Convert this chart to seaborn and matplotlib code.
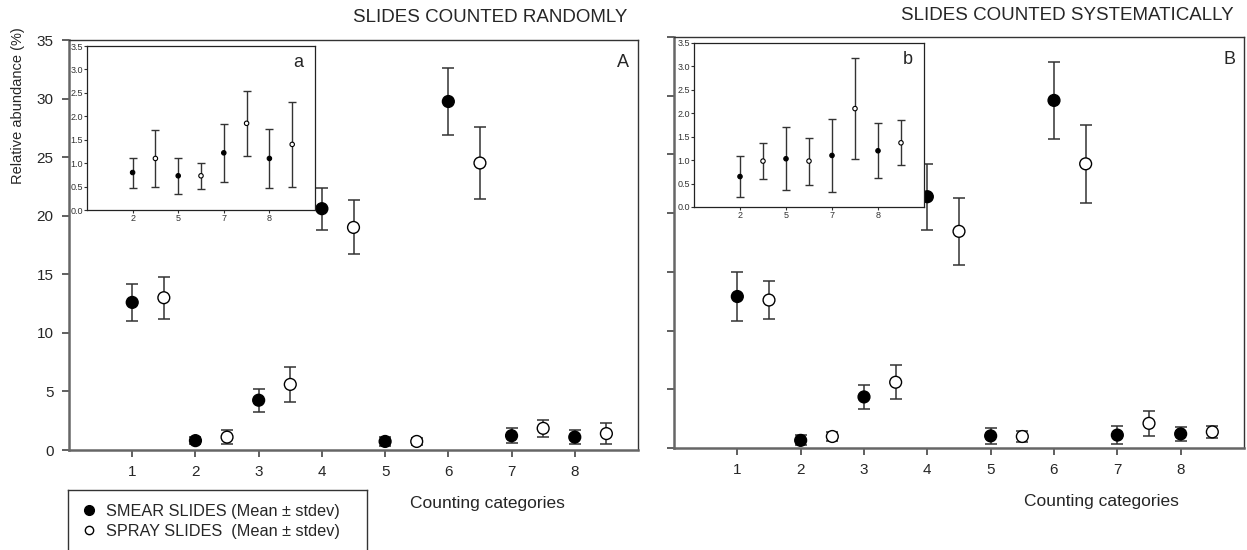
import numpy as np
import pandas as pd
import seaborn as sns
import matplotlib.pyplot as plt
from matplotlib.lines import Line2D

categories = [1, 2, 3, 4, 5, 6, 7, 8]
inset_cats = [2, 5, 7, 8]

# A: slides counted randomly
smear_a = [12.6, 0.8, 4.25, 20.6, 0.73, 29.75, 1.22, 1.1]
smear_a_sd = [1.6, 0.32, 0.97, 1.8, 0.39, 2.85, 0.62, 0.62]
spray_a = [13.0, 1.1, 5.6, 19.0, 0.73, 24.5, 1.85, 1.4]
spray_a_sd = [1.8, 0.6, 1.5, 2.3, 0.28, 3.1, 0.7, 0.9]

# B: slides counted systematically
smear_b = [12.9, 0.65, 4.35, 21.4, 1.03, 29.6, 1.1, 1.2]
smear_b_sd = [2.05, 0.43, 1.05, 2.8, 0.67, 3.3, 0.77, 0.59]
spray_b = [12.6, 0.98, 5.6, 18.45, 0.98, 24.2, 2.1, 1.37]
spray_b_sd = [1.65, 0.38, 1.45, 2.85, 0.5, 3.3, 1.07, 0.48]


def make_df(smear, smear_sd, spray, spray_sd, cats):
    rows = []
    for c in cats:
        k = categories.index(c)
        rows.append(dict(cat=c, kind="SMEAR", mean=smear[k], sd=smear_sd[k]))
        rows.append(dict(cat=c, kind="SPRAY", mean=spray[k], sd=spray_sd[k]))
    return pd.DataFrame(rows)


def draw(ax, df, positions, ms, cap, lw, ew):
    df = df.copy()
    base = df["cat"].map(dict(zip(sorted(df["cat"].unique()), positions)))
    df["pos"] = base + np.where(df["kind"] == "SPRAY", 0.5, 0.0)
    ax.errorbar(df["pos"], df["mean"], yerr=df["sd"], fmt="none", ecolor="#333333",
                elinewidth=lw, capsize=cap, capthick=lw, zorder=2)
    sns.scatterplot(data=df, x="pos", y="mean", hue="kind",
                    palette={"SMEAR": "black", "SPRAY": "white"},
                    s=ms ** 2, edgecolor="black", linewidth=ew, legend=False,
                    ax=ax, zorder=3)
    ax.set_xlabel("")
    ax.set_ylabel("")


sns.set_theme(style="ticks")
plt.rcParams["font.family"] = ["Liberation Sans", "DejaVu Sans"]

fig = plt.figure(figsize=(12.47, 5.5), dpi=100)
W, H = 1247, 550


def fax(x0, y0, x1, y1):
    return fig.add_axes([x0 / W, 1 - y1 / H, (x1 - x0) / W, (y1 - y0) / H])


panels = [
    (fax(69, 40, 638, 450), fax(87, 46, 315, 210),
     make_df(smear_a, smear_a_sd, spray_a, spray_a_sd, categories),
     make_df(smear_a, smear_a_sd, spray_a, spray_a_sd, inset_cats), "A", "a", True, 0.735),
    (fax(674, 37, 1244, 448), fax(694, 43, 924, 207),
     make_df(smear_b, smear_b_sd, spray_b, spray_b_sd, categories),
     make_df(smear_b, smear_b_sd, spray_b, spray_b_sd, inset_cats), "B", "b", False, 0.75),
]

for ax, ins, df_main, df_ins, big, small, ylabels, xlab_x in panels:
    draw(ax, df_main, categories, 8.5, 4.5, 1.1, 1.0)
    ax.set_xlim(0, 9)
    ax.set_ylim(0, 35)
    ax.set_xticks(categories)
    ax.set_yticks(np.arange(0, 36, 5))
    if not ylabels:
        ax.set_yticklabels([])
    ax.tick_params(axis="both", direction="out", length=5, width=1.2, color="#444444",
                   labelsize=11, pad=6)
    for side in ["left", "bottom"]:
        ax.spines[side].set_color("#666666")
        ax.spines[side].set_linewidth(1.8)
    for side in ["top", "right"]:
        ax.spines[side].set_color("#333333")
        ax.spines[side].set_linewidth(1.0)
    ax.text(0.985, 0.965, big, transform=ax.transAxes, ha="right", va="top", fontsize=13)
    ax.text(xlab_x, -0.13, "Counting categories", transform=ax.transAxes, ha="center",
            va="center", fontsize=12.5)

    draw(ins, df_ins, [1, 2, 3, 4], 3.2, 3.2, 1.0, 0.8)
    ins.set_xlim(0, 5)
    ins.set_ylim(0, 3.5)
    ins.set_xticks([1, 2, 3, 4])
    ins.set_xticklabels([str(c) for c in inset_cats])
    ins.set_yticks(np.arange(0, 3.6, 0.5))
    ins.set_yticklabels([f"{v:.1f}" for v in np.arange(0, 3.6, 0.5)])
    ins.tick_params(axis="both", direction="out", length=2, width=0.8, labelsize=6.5,
                    pad=1, colors="#333333")
    for s in ins.spines.values():
        s.set_color("#222222")
        s.set_linewidth(0.9)
    ins.text(0.95, 0.9, small, transform=ins.transAxes, ha="right", va="center", fontsize=13)

panels[0][0].text(-0.09, 0.84, "Relative abundance (%)", transform=panels[0][0].transAxes,
                  rotation=90, ha="center", va="center", fontsize=10.5)

fig.text(627 / W, 1 - 18 / H, "SLIDES COUNTED RANDOMLY", ha="right", va="center", fontsize=13.5)
fig.text(1234 / W, 1 - 16 / H, "SLIDES COUNTED SYSTEMATICALLY", ha="right", va="center",
         fontsize=13.5)

# legend box, cut off by the lower edge of the figure
lax = fax(68, 490, 367, 580)
lax.set_xticks([])
lax.set_yticks([])
for s in lax.spines.values():
    s.set_color("#333333")
    s.set_linewidth(1.0)
handles = [
    Line2D([], [], linestyle="none", marker="o", markersize=7, markerfacecolor="black",
           markeredgecolor="black"),
    Line2D([], [], linestyle="none", marker="o", markersize=6, markerfacecolor="white",
           markeredgecolor="black"),
]
lax.legend(handles, ["SMEAR SLIDES (Mean \u00b1 stdev)", "SPRAY SLIDES  (Mean \u00b1 stdev)"],
           loc="upper left", bbox_to_anchor=(0.0, 0.97), frameon=False, fontsize=11.7,
           handletextpad=0.45, labelspacing=0.3, handlelength=1.2, borderaxespad=0.3)

fig.savefig("out.png", dpi=100)
